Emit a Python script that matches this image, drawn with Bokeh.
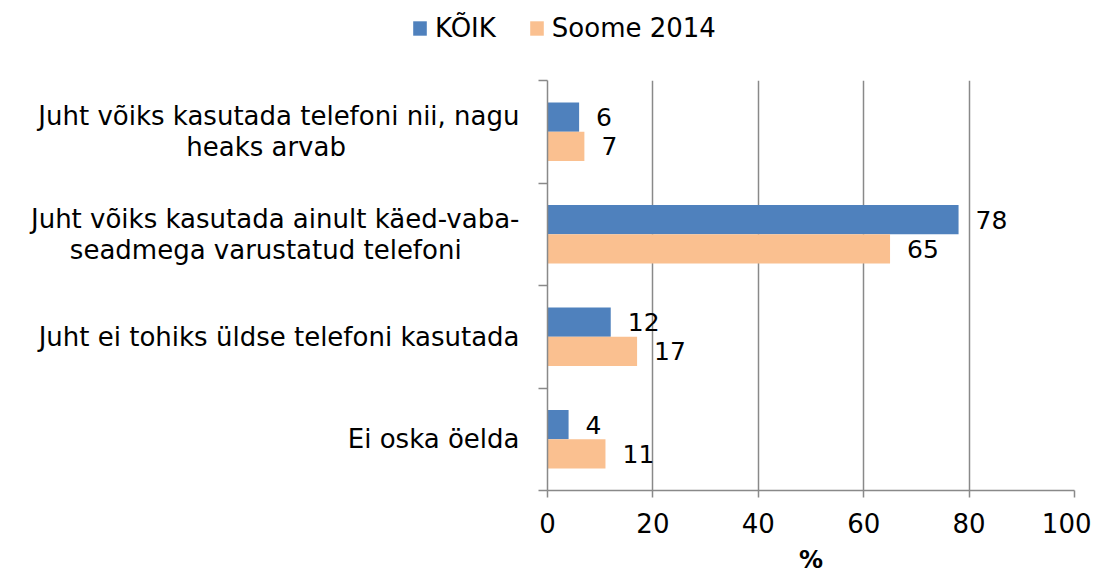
from bokeh.plotting import figure
from bokeh.layouts import column
from bokeh.models import Range1d, FixedTicker, Legend, LegendItem
from bokeh.embed import file_html
from bokeh.resources import INLINE
from bokeh.core.properties import value

categories = [
    "Juht võiks kasutada telefoni nii, nagu\nheaks arvab",
    "Juht võiks kasutada ainult käed-vaba-\nseadmega varustatud telefoni",
    "Juht ei tohiks üldse telefoni kasutada",
    "Ei oska öelda",
]
koik = [6, 78, 12, 4]
soome = [7, 65, 17, 11]
series_names = ["KÕIK", "Soome 2014"]
x_ticks = [0, 20, 40, 60, 80, 100]
x_label = "%"

# styling: trailing no-break spaces per wrapped line, so the wrapped lines look centred
line_pad = [[0, 21], [0, 7], [0], [0]]

FONT = "DejaVu Sans"
FS = "26px"
BLUE = "#4F81BD"
ORANGE = "#FAC090"
GRAY = "#898989"
W = 1091

n = len(categories)
ycent = [n - 0.5 - i for i in range(n)]
bar_h = 0.285
y_blue = [c + bar_h / 2 for c in ycent]
y_orange = [c - bar_h / 2 for c in ycent]

tick_text = []
for lab, pads in zip(categories, line_pad):
    lines = lab.split("\n")
    tick_text.append("\n".join(l + "\u00a0" * k for l, k in zip(lines, pads)))

# ---- main chart
p = figure(width=W, height=516, output_backend="svg", toolbar_location=None,
           x_range=Range1d(0, 100), y_range=Range1d(0, n),
           min_border_left=547, min_border_right=17, min_border_top=20, min_border_bottom=86)
p.frame_align = False
p.outline_line_color = None
p.background_fill_color = "white"

r1 = p.hbar(y=y_blue, right=koik, left=0, height=bar_h, fill_color=BLUE, line_color=None)
r2 = p.hbar(y=y_orange, right=soome, left=0, height=bar_h, fill_color=ORANGE, line_color=None)

for vals, ys in ((koik, y_blue), (soome, y_orange)):
    p.text(x=vals, y=ys, text=[str(v) for v in vals], x_offset=17,
           text_align="left", text_baseline="middle",
           text_font=value(FONT), text_font_size="25px", text_color="black")

p.xaxis.ticker = FixedTicker(ticks=x_ticks)
p.xaxis.minor_tick_line_color = None
p.xaxis.major_tick_in = 0
p.xaxis.major_tick_out = 7
p.xaxis.axis_line_color = GRAY
p.xaxis.axis_line_width = 1.5
p.xaxis.major_tick_line_color = GRAY
p.xaxis.major_tick_line_width = 1.5
p.xaxis.major_label_text_font = FONT
p.xaxis.major_label_text_font_size = FS
p.xaxis.major_label_text_color = "black"
p.xaxis.major_label_standoff = 15
p.xaxis.axis_label = x_label
p.xaxis.axis_label_text_font = FONT
p.xaxis.axis_label_text_font_size = "24px"
p.xaxis.axis_label_text_font_style = "bold"
p.xaxis.axis_label_text_color = "black"
p.xaxis.axis_label_standoff = 10

p.yaxis.ticker = FixedTicker(ticks=ycent, minor_ticks=list(range(n + 1)))
p.yaxis.major_label_overrides = {c: t for c, t in zip(ycent, tick_text)}
p.yaxis.major_tick_line_color = None
p.yaxis.major_tick_in = 0
p.yaxis.major_tick_out = 0
p.yaxis.minor_tick_in = 0
p.yaxis.minor_tick_out = 9
p.yaxis.minor_tick_line_color = GRAY
p.yaxis.minor_tick_line_width = 1.5
p.yaxis.axis_line_color = GRAY
p.yaxis.axis_line_width = 1.5
p.yaxis.major_label_text_font = FONT
p.yaxis.major_label_text_font_size = FS
p.yaxis.major_label_text_color = "black"
p.yaxis.major_label_text_line_height = 1.02
p.yaxis.major_label_standoff = 19

p.xgrid.ticker = FixedTicker(ticks=x_ticks)
p.xgrid.grid_line_color = GRAY
p.xgrid.grid_line_width = 1.5
p.ygrid.visible = False

# ---- legend strip (renderers fall outside its view; only the legend shows)
top = figure(width=W, height=60, output_backend="svg", toolbar_location=None,
             x_range=Range1d(-200, -100), y_range=Range1d(0, n),
             x_axis_type=None, y_axis_type=None,
             min_border_left=0, min_border_right=0, min_border_top=0, min_border_bottom=0)
top.frame_align = False
top.outline_line_color = None
top.grid.visible = False
t1 = top.hbar(y=y_blue, right=koik, left=0, height=bar_h, fill_color=BLUE, line_color=None)
t2 = top.hbar(y=y_orange, right=soome, left=0, height=bar_h, fill_color=ORANGE, line_color=None)
legend = Legend(items=[LegendItem(label=series_names[0], renderers=[t1]),
                       LegendItem(label=series_names[1], renderers=[t2])],
                orientation="horizontal", location=(411, 17),
                glyph_width=17, glyph_height=18, label_standoff=7, spacing=32,
                padding=0, margin=0, border_line_color=None, background_fill_alpha=0,
                label_text_font=FONT, label_text_font_size=FS, label_text_color="black",
                label_height=30)
top.add_layout(legend, "center")

layout = column(top, p, spacing=0)
open("out.html", "w").write(file_html(layout, INLINE))
